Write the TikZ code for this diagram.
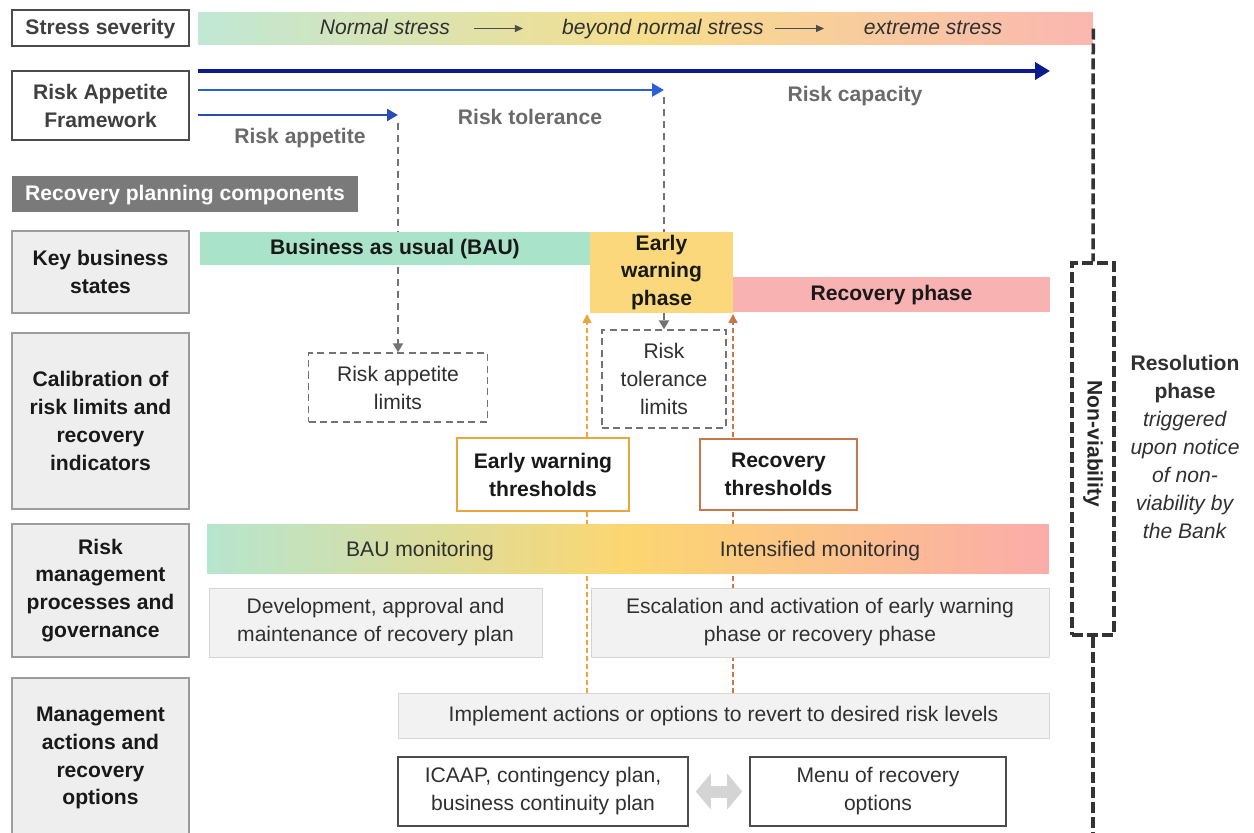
\documentclass[tikz,border=0pt]{standalone}
\usepackage{fontspec}
\setmainfont{Liberation Sans}
\usepackage{tikz}
\usetikzlibrary{arrows.meta,backgrounds}
\definecolor{txt}{HTML}{303030}
\definecolor{labgrey}{HTML}{6A6A6A}
\definecolor{sidefill}{HTML}{EEEEEE}
\definecolor{sideline}{HTML}{9C9C9C}
\definecolor{softfill}{HTML}{F2F2F2}
\definecolor{softline}{HTML}{D6D6D6}
\definecolor{mint}{HTML}{A9E3CA}
\definecolor{amber}{HTML}{FCD87C}
\definecolor{rose}{HTML}{F8B2B1}
\definecolor{navy}{HTML}{0B1A8C}
\definecolor{midblue}{HTML}{2A5FD8}
\definecolor{lowblue}{HTML}{2A4CB8}
\definecolor{ewcol}{HTML}{E9A63C}
\definecolor{rccol}{HTML}{C7784A}
\definecolor{stressA}{HTML}{C0E8D5}
\definecolor{stressB}{HTML}{F6DE8C}
\definecolor{stressC}{HTML}{FAB7B0}
\definecolor{monA}{HTML}{B6E5CF}
\definecolor{monB}{HTML}{FCD670}
\definecolor{monC}{HTML}{FBACAA}

\begin{document}
\begin{tikzpicture}[x=0.02cm,y=-0.02cm,
  every node/.style={inner sep=0pt,text=txt,font=\fontsize{12}{15.9}\selectfont},
  oneline/.style={text height=0.9em,text depth=0.18em},
  topbox/.style={draw=black!70,line width=0.9pt,fill=white,align=center,text=black!75,font=\fontsize{12}{15.9}\selectfont\bfseries,minimum width=3.54cm},
  sidebox/.style={draw=sideline,line width=0.9pt,fill=sidefill,align=center,text=black!90,font=\fontsize{12}{15.9}\selectfont\bfseries,minimum width=3.54cm},
  phase/.style={align=center,text=black!90,font=\fontsize{12}{15.9}\selectfont\bfseries},
  limitbox/.style={draw=black!55,line width=0.8pt,dash pattern=on 4pt off 2.5pt,fill=white,align=center},
  threshbox/.style={line width=1.2pt,fill=white,align=center,text=black!90,font=\fontsize{12}{15.9}\selectfont\bfseries},
  softbox/.style={draw=softline,line width=0.5pt,fill=softfill,align=center},
  whitebox/.style={draw=black!70,line width=0.9pt,fill=white,align=center},
  risklabel/.style={oneline,text=labgrey,font=\fontsize{12}{15.9}\selectfont\bfseries},
  stresstext/.style={oneline,font=\fontsize{12}{15.9}\selectfont\itshape},
  gdash/.style={draw=black!55,line width=0.04cm,dash pattern=on 0.14cm off 0.1cm,-{Triangle[length=0.18cm,width=0.2cm]}},
  odash/.style={line width=0.03cm,dash pattern=on 0.1cm off 0.06cm,-{Triangle[length=0.18cm,width=0.18cm]}},
  nvline/.style={draw=black!80,line width=0.07cm,dash pattern=on 0.22cm off 0.08cm}
  ]
  \useasboundingbox (0,0) rectangle (1254,832);
  \clip (0,0) rectangle (1254,832);

  \node[topbox,oneline,minimum height=0.72cm] (stress) at (100.5,28) {Stress severity};
  \node[left color=stressA,right color=stressC,middle color=stressB,minimum width=17.9cm,minimum height=0.66cm] (stressbar) at (645.5,28.5) {};
  \node[stresstext] (normal) at (385,28.5) {Normal stress};
  \node[stresstext] (beyond) at (663,28.5) {beyond normal stress};
  \node[stresstext] (extreme) at (933,28.5) {extreme stress};
  \draw[black!70,line width=0.6pt,-{Triangle[length=0.16cm,width=0.14cm]},shorten <=0.48cm,shorten >=0.78cm] (normal) -- (beyond);
  \draw[black!70,line width=0.6pt,-{Triangle[length=0.16cm,width=0.14cm]},shorten <=0.22cm,shorten >=0.79cm] (beyond) -- (extreme);

  \node[topbox,minimum height=1.38cm] (raf) at (100.5,105.5) {Risk Appetite\\Framework};
  \coordinate (capS) at (198,71);
  \coordinate (capE) at (1050,71);
  \coordinate (tolS) at (198,90);
  \coordinate (tolE) at (664,90);
  \coordinate (appS) at (198,115);
  \coordinate (appE) at (398,115);
  \draw[navy,line width=0.08cm,-{Triangle[length=0.3cm,width=0.34cm]}] (capS) -- (capE);
  \draw[midblue,line width=0.055cm,-{Triangle[length=0.24cm,width=0.26cm]}] (tolS) -- (tolE);
  \draw[lowblue,line width=0.05cm,-{Triangle[length=0.22cm,width=0.24cm]}] (appS) -- (appE);
  \node[risklabel] (capl) at (855,95) {Risk capacity};
  \node[risklabel] (toll) at (530,118) {Risk tolerance};
  \node[risklabel] (appl) at (300,137) {Risk appetite};

  \node[oneline,fill=black!52,text=white,font=\fontsize{12}{15.9}\selectfont\bfseries,minimum width=6.92cm,minimum height=0.72cm] (rpc) at (185,194) {Recovery planning components};

  \node[sidebox,minimum height=1.64cm] (kbs) at (100.5,272) {Key business\\states};
  \node[sidebox,minimum height=3.52cm] (cal) at (100.5,421) {Calibration of\\risk limits and\\recovery\\indicators};
  \node[sidebox,minimum height=2.66cm] (rmp) at (100.5,590.5) {Risk\\management\\processes and\\governance};
  \node[sidebox,minimum height=3.2cm] (mar) at (100.5,758) {Management\\actions and\\recovery\\options};

  \node[phase,oneline,fill=mint,minimum width=7.8cm,minimum height=0.66cm] (bau) at (395,248.5) {Business as usual (BAU)};
  \node[phase,fill=amber,minimum width=2.86cm,minimum height=1.62cm] (ewp) at (661.5,272.5) {Early\\warning\\phase};
  \node[phase,oneline,fill=rose,minimum width=6.34cm,minimum height=0.7cm] (rcp) at (891.5,294.5) {Recovery phase};

  \node[limitbox,minimum width=3.58cm,minimum height=1.38cm] (ral) at (398,387.5) {Risk appetite\\limits};
  \node[limitbox,minimum width=2.48cm,minimum height=1.96cm] (rtl) at (664,379) {Risk\\tolerance\\limits};
  \node[threshbox,draw=ewcol,minimum width=3.44cm,minimum height=1.46cm] (ewt) at (543,474.5) {Early warning\\thresholds};
  \node[threshbox,draw=rccol,minimum width=3.14cm,minimum height=1.42cm] (rct) at (778.5,474.5) {Recovery\\thresholds};

  \node[left color=monA,right color=monC,middle color=monB,minimum width=16.84cm,minimum height=0.98cm] (mon) at (628,548.5) {};
  \node[oneline] (baum) at (420,550) {BAU monitoring};
  \node[oneline] (intm) at (820,550) {Intensified monitoring};
  \node[softbox,minimum width=6.66cm,minimum height=1.38cm] (dev) at (375.5,622.5) {Development, approval and\\maintenance of recovery plan};
  \node[softbox,minimum width=9.16cm,minimum height=1.38cm] (esc) at (820,622.5) {Escalation and activation of early warning\\phase or recovery phase};

  \node[softbox,oneline,minimum width=13.02cm,minimum height=0.9cm] (impl) at (723.5,715.5) {Implement actions or options to revert to desired risk levels};
  \node[whitebox,minimum width=5.8cm,minimum height=1.38cm] (icaap) at (543,791.5) {ICAAP, contingency plan,\\business continuity plan};
  \node[whitebox,minimum width=5.12cm,minimum height=1.38cm] (menu) at (878,791.5) {Menu of recovery\\options};
  \draw[draw=black!17,line width=0.24cm,{Triangle[length=0.3cm,width=0.7cm]}-{Triangle[length=0.3cm,width=0.7cm]},shorten <=0.14cm,shorten >=0.14cm] (icaap) -- (menu);

  \coordinate (ewtop) at (587,314);
  \coordinate (rctop) at (733,314);
  \begin{pgfonlayer}{background}
    \draw[gdash] ([yshift=-0.16cm]appE) -- (ral.north);
    \draw[gdash] ([yshift=-0.14cm]tolE) -- (rtl.north);
    \draw[odash,draw=ewcol] (impl.north -| ewtop) -- (ewtop);
    \draw[odash,draw=rccol] (impl.north -| rctop) -- (rctop);
  \end{pgfonlayer}

  \node[draw=black!80,line width=0.07cm,dash pattern=on 0.22cm off 0.08cm,minimum width=0.84cm,minimum height=7.44cm] (nvb) at (1093,449) {};
  \node[rotate=-90,text=black!85,font=\fontsize{12}{15.9}\selectfont\bfseries] (nvt) at (1093,444) {Non-viability};
  \coordinate (nvbot) at (1093,845);
  \draw[nvline] (stressbar.east) -- (nvb.north);
  \draw[nvline] (nvb.south) -- (nvbot);

  \node[align=center] (res) at (1185,447) {\textbf{Resolution}\\\textbf{phase}\\\textit{triggered}\\\textit{upon notice}\\\textit{of non-}\\\textit{viability by}\\\textit{the Bank}};
\end{tikzpicture}
\end{document}
